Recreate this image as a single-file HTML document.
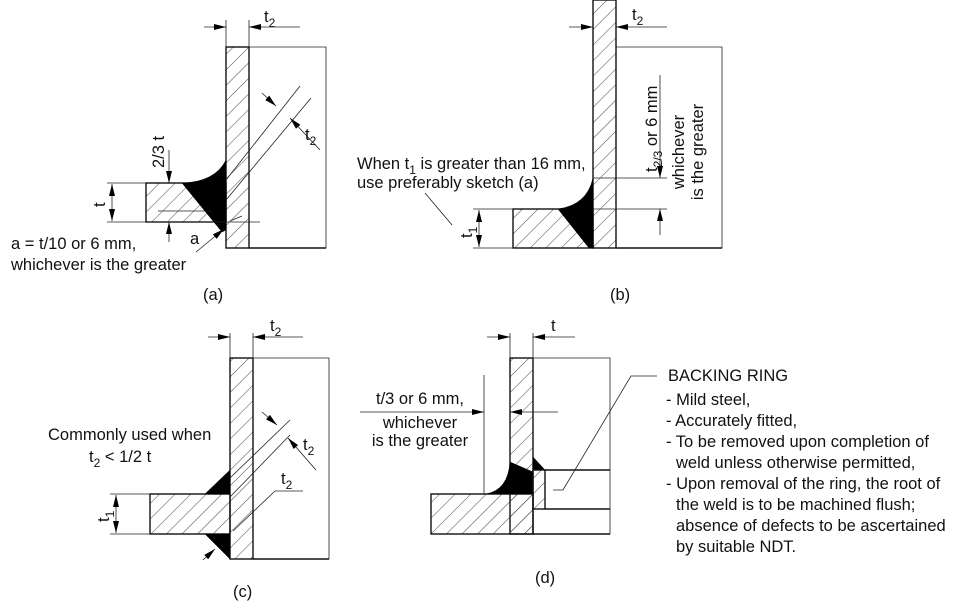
<!DOCTYPE html>
<html><head><meta charset="utf-8"><style>
html,body{margin:0;padding:0;background:#fff;}
svg{display:block;font-family:"Liberation Sans",Arial,sans-serif;}
text{fill:#111;font-size:16.5px;}
.o{stroke:#111;stroke-width:1.6;fill:none;}
.t{stroke:#222;stroke-width:0.8;fill:none;}
.h{fill:url(#hatch);stroke:#111;stroke-width:1.4;}
.w{fill:#000;stroke:#000;stroke-width:0.5;}
</style></head><body>
<svg width="960" height="606" viewBox="0 0 960 606">
<defs>
<pattern id="hatch" patternUnits="userSpaceOnUse" width="11" height="11" patternTransform="rotate(45)">
<line x1="0" y1="0" x2="0" y2="11" stroke="#333" stroke-width="0.9"/>
</pattern>
<marker id="ar" viewBox="0 0 12 6" refX="12" refY="3" markerWidth="12" markerHeight="6" orient="auto-start-reverse" markerUnits="userSpaceOnUse" preserveAspectRatio="none"><path d="M0,0 L12,3 L0,6 z" fill="#000"/></marker>
</defs>

<!-- ===== (a) ===== -->
<g>
<rect class="h" x="226" y="47" width="23" height="201"/>
<rect class="h" x="146" y="183" width="80" height="39"/>
<path class="w" d="M182,183 Q215,182 226,160 L226,230 L222,232 Z"/>
<polyline class="t" points="249,47 326,47 326,248 249,248"/>
<line class="o" x1="249" y1="248" x2="326" y2="248"/>
<line class="t" x1="226" y1="20" x2="226" y2="47"/><line class="t" x1="249" y1="20" x2="249" y2="47"/>
<line class="t" x1="204" y1="27" x2="226" y2="27" marker-end="url(#ar)"/>
<line class="t" x1="300" y1="27" x2="249" y2="27" marker-end="url(#ar)"/>
<text x="264" y="22">t<tspan font-size="12" dy="5">2</tspan></text>
<line class="t" x1="107" y1="183" x2="146" y2="183"/><line class="t" x1="107" y1="222" x2="260" y2="222"/>
<line class="t" x1="158" y1="211" x2="212" y2="211"/>
<line class="t" x1="112" y1="184" x2="112" y2="221" marker-start="url(#ar)" marker-end="url(#ar)"/>
<text transform="translate(105,207) rotate(-90)">t</text>
<line class="t" x1="169" y1="150" x2="169" y2="183" marker-end="url(#ar)"/>
<line class="t" x1="169" y1="242" x2="169" y2="222" marker-end="url(#ar)"/>
<text transform="translate(164,168) rotate(-90)">2/3 t</text>
<line class="t" x1="226" y1="180" x2="300" y2="86"/><line class="t" x1="226" y1="200" x2="311" y2="98"/>
<line class="t" x1="262" y1="93" x2="276" y2="106" marker-end="url(#ar)"/>
<line class="t" x1="320" y1="150" x2="290" y2="118" marker-end="url(#ar)"/>
<text x="305" y="140">t<tspan font-size="12" dy="5">2</tspan></text>
<line class="t" x1="196" y1="252" x2="224" y2="229" marker-end="url(#ar)"/>
<line class="t" x1="242" y1="216" x2="230" y2="221"/>
<text x="190" y="244">a</text>
<text x="11" y="249">a = t/10 or 6 mm,</text>
<text x="11" y="270">whichever is the greater</text>
<text x="203" y="300">(a)</text>
</g>

<!-- ===== (b) ===== -->
<g>
<rect class="h" x="593" y="0" width="23" height="248"/>
<rect class="h" x="513" y="209" width="80" height="39"/>
<path class="w" d="M558,209 Q587,205 593,178 L593,248 L589,248 Z"/>
<polyline class="t" points="616,47 722,47 722,248 616,248"/>
<line class="o" x1="616" y1="248" x2="722" y2="248"/>
<line class="t" x1="569" y1="27" x2="593" y2="27" marker-end="url(#ar)"/>
<line class="t" x1="667" y1="27" x2="616" y2="27" marker-end="url(#ar)"/>
<text x="632" y="20">t<tspan font-size="12" dy="5">2</tspan></text>
<line class="t" x1="593" y1="178" x2="667" y2="178"/><line class="t" x1="593" y1="209" x2="667" y2="209"/>
<line class="t" x1="660" y1="75" x2="660" y2="178" marker-end="url(#ar)"/>
<line class="t" x1="660" y1="235" x2="660" y2="209" marker-end="url(#ar)"/>
<text transform="translate(657,172) rotate(-90)">t<tspan font-size="12" dy="5">2/3</tspan><tspan dy="-5"> or 6 mm</tspan></text>
<text transform="translate(684,152) rotate(-90)" text-anchor="middle">whichever</text>
<text transform="translate(703,152) rotate(-90)" text-anchor="middle">is the greater</text>
<line class="t" x1="473" y1="209" x2="513" y2="209"/><line class="t" x1="473" y1="248" x2="513" y2="248"/>
<line class="t" x1="479" y1="210" x2="479" y2="247" marker-start="url(#ar)" marker-end="url(#ar)"/>
<text transform="translate(472,238) rotate(-90)">t<tspan font-size="12" dy="5">1</tspan></text>
<line class="t" x1="425" y1="193" x2="452" y2="225"/>
<text x="357" y="169">When t<tspan font-size="12" dy="5">1</tspan><tspan dy="-5"> is greater than 16 mm,</tspan></text>
<text x="357" y="188">use preferably sketch (a)</text>
<text x="610" y="300">(b)</text>
</g>

<!-- ===== (c) ===== -->
<g>
<rect class="h" x="230" y="358" width="23" height="201"/>
<rect class="h" x="150" y="494" width="80" height="40"/>
<path class="w" d="M205,494 L230,470 L230,494 Z"/>
<path class="w" d="M205,534 L230,534 L230,559 Z"/>
<polyline class="t" points="253,358 329,358 329,559 253,559"/>
<line class="o" x1="253" y1="559" x2="329" y2="559"/>
<line class="t" x1="230" y1="333" x2="230" y2="358"/><line class="t" x1="253" y1="333" x2="253" y2="358"/>
<line class="t" x1="208" y1="337" x2="230" y2="337" marker-end="url(#ar)"/>
<line class="t" x1="303" y1="337" x2="253" y2="337" marker-end="url(#ar)"/>
<text x="270" y="331">t<tspan font-size="12" dy="5">2</tspan></text>
<line class="t" x1="230" y1="478" x2="290" y2="420"/><line class="t" x1="230" y1="497" x2="290" y2="435"/>
<line class="t" x1="262" y1="412" x2="277" y2="425" marker-end="url(#ar)"/>
<line class="t" x1="316" y1="470" x2="288" y2="438" marker-end="url(#ar)"/>
<text x="303" y="450">t<tspan font-size="12" dy="5">2</tspan></text>
<polyline class="t" points="303,491 275,491 233,531"/>
<text x="281" y="484">t<tspan font-size="12" dy="5">2</tspan></text>
<line class="t" x1="203" y1="560" x2="215" y2="549" marker-end="url(#ar)"/>
<line class="t" x1="110" y1="494" x2="150" y2="494"/><line class="t" x1="110" y1="534" x2="150" y2="534"/>
<line class="t" x1="116" y1="495" x2="116" y2="533" marker-start="url(#ar)" marker-end="url(#ar)"/>
<text transform="translate(109,522) rotate(-90)">t<tspan font-size="12" dy="5">1</tspan></text>
<text x="48" y="440">Commonly used when</text>
<text x="89" y="462">t<tspan font-size="12" dy="5">2</tspan><tspan dy="-5"> &lt; 1/2 t</tspan></text>
<text x="233" y="597">(c)</text>
</g>

<!-- ===== (d) ===== -->
<g>
<rect class="h" x="510" y="358" width="23" height="176"/>
<rect class="h" x="431" y="494" width="102" height="40"/>
<path class="w" d="M486,494 Q508,490 510,462 L533,472 L533,494 Z"/>
<path class="w" d="M533,457 L545,470 L533,470 Z"/>
<rect class="h" x="533" y="470" width="12" height="39"/>
<polyline class="t" points="533,358 610,358 610,534 533,534"/>
<line class="o" x1="545" y1="470" x2="610" y2="470"/><line class="o" x1="545" y1="509" x2="610" y2="509"/>
<line class="o" x1="533" y1="534" x2="610" y2="534"/>
<line class="t" x1="510" y1="333" x2="510" y2="358"/><line class="t" x1="533" y1="333" x2="533" y2="358"/>
<line class="t" x1="487" y1="337" x2="510" y2="337" marker-end="url(#ar)"/>
<line class="t" x1="575" y1="337" x2="533" y2="337" marker-end="url(#ar)"/>
<text x="551" y="331">t</text>
<line class="t" x1="484" y1="375" x2="484" y2="494"/>
<line class="t" x1="360" y1="412" x2="484" y2="412" marker-end="url(#ar)"/>
<line class="t" x1="558" y1="412" x2="510" y2="412" marker-end="url(#ar)"/>
<text x="420" y="404" text-anchor="middle">t/3 or 6 mm,</text>
<text x="420" y="428" text-anchor="middle">whichever</text>
<text x="420" y="446" text-anchor="middle">is the greater</text>
<polyline class="t" points="553,490 563,490 631,376 657,376"/>
<text x="535" y="583">(d)</text>
<g>
<text x="668" y="381">BACKING RING</text>
<text x="666" y="405">- Mild steel,</text>
<text x="666" y="426">- Accurately fitted,</text>
<text x="666" y="447">- To be removed upon completion of</text>
<text x="676" y="468">weld unless otherwise permitted,</text>
<text x="666" y="489">- Upon removal of the ring, the root of</text>
<text x="676" y="510">the weld is to be machined flush;</text>
<text x="676" y="531">absence of defects to be ascertained</text>
<text x="676" y="552">by suitable NDT.</text>
</g>
</g>
</svg>
</body></html>
